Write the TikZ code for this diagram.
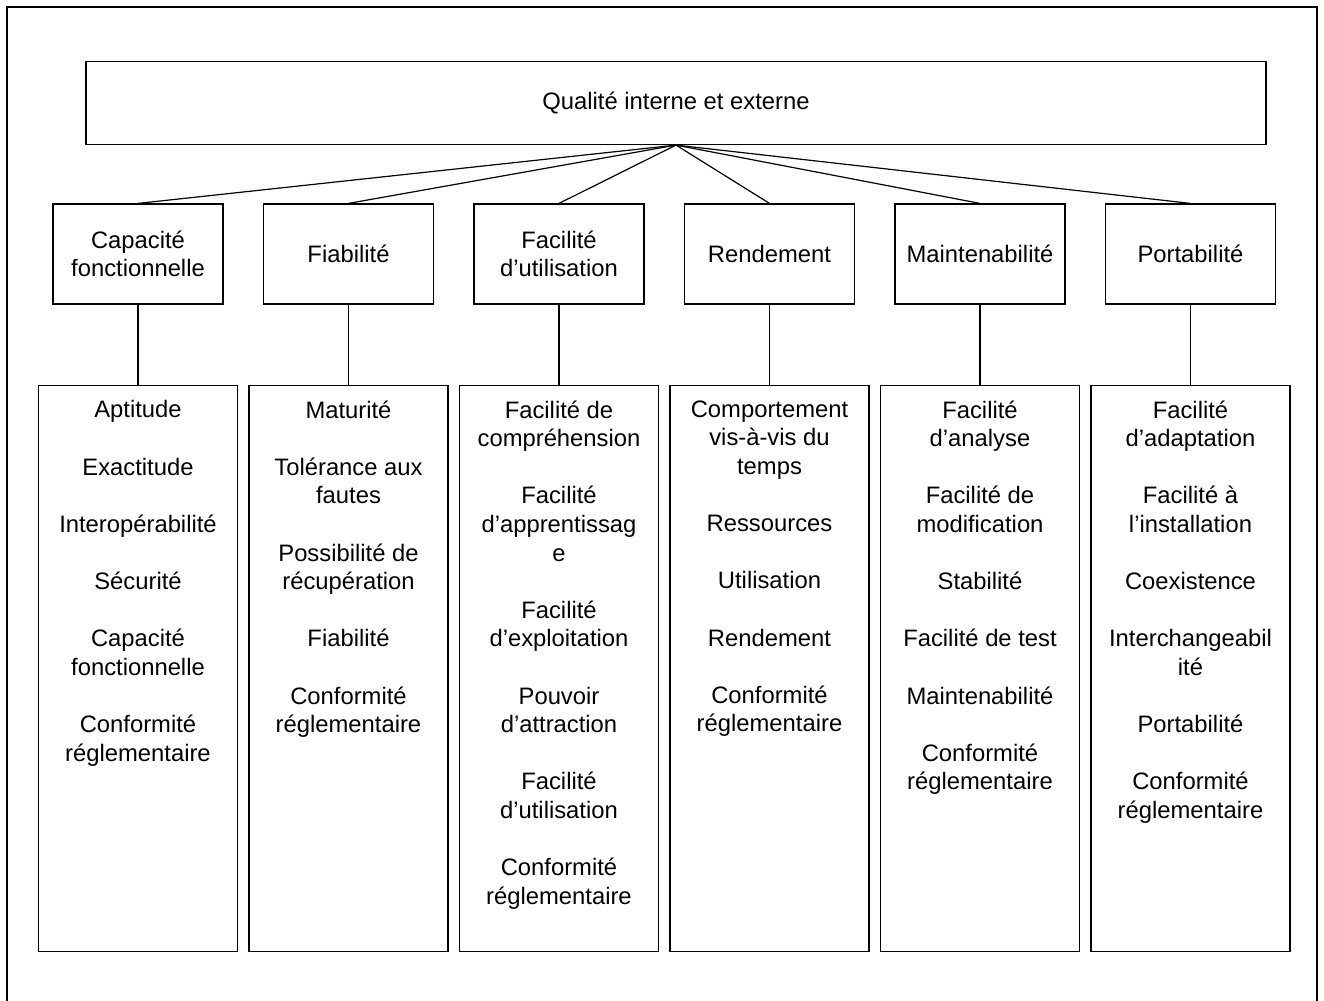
\documentclass[tikz,border=0pt]{standalone}
\usepackage{fontspec}
\setmainfont{Liberation Sans}
\usetikzlibrary{positioning}
\tikzset{
  every picture/.style={line width=0.6pt},
  txt/.style={font=\fontsize{11.9pt}{14.3pt}\selectfont, align=center},
  cat/.style={draw, txt, minimum width=85pt, minimum height=50pt, inner sep=2pt},
  lst/.style={draw, minimum width=99.5pt, minimum height=283pt, inner sep=0pt, anchor=north},
  items/.style={txt, anchor=north, inner sep=0pt, yshift=-7.5pt},
  link/.style={draw=black, line width=0.6pt},
}
\newcommand{\itemgap}{\\[14.3pt]}

\begin{document}
\begin{tikzpicture}[x=0.5pt, y=-0.5pt]
  \useasboundingbox (0,0) rectangle (1324,1001);
  % outer frame, bottom edge falls off the page
  \draw[line width=1.1pt] (7,1004) -- (7,7) -- (1317,7) -- (1317,1004);

  \node[draw, txt, minimum width=590pt, minimum height=41.5pt] (qual) at (676,103) {Qualité interne et externe};

  % characteristics
  \node[cat] (cap) at (138,254) {Capacité\\fonctionnelle};
  \node[cat] (fia) at (348.5,254) {Fiabilité};
  \node[cat] (uti) at (559,254) {Facilité\\d’utilisation};
  \node[cat] (ren) at (769.5,254) {Rendement};
  \node[cat] (mai) at (980,254) {Maintenabilité};
  \node[cat] (por) at (1190.5,254) {Portabilité};

  % sub-characteristics
  \node[lst] (capl) at (138,385) {};
  \node[lst] (fial) at (348.5,385) {};
  \node[lst] (util) at (559,385) {};
  \node[lst] (renl) at (769.5,385) {};
  \node[lst] (mail) at (980,385) {};
  \node[lst] (porl) at (1190.5,385) {};

  \node[items] (capt) at (capl.north) {Aptitude\itemgap Exactitude\itemgap Interopérabilité\itemgap Sécurité\itemgap Capacité\\fonctionnelle\itemgap Conformité\\réglementaire};
  \node[items] (fiat) at (fial.north) {Maturité\itemgap Tolérance aux\\fautes\itemgap Possibilité de\\récupération\itemgap Fiabilité\itemgap Conformité\\réglementaire};
  \node[items] (utit) at (util.north) {Facilité de\\compréhension\itemgap Facilité\\d’apprentissag\\e\itemgap Facilité\\d’exploitation\itemgap Pouvoir\\d’attraction\itemgap Facilité\\d’utilisation\itemgap Conformité\\réglementaire};
  \node[items] (rent) at (renl.north) {Comportement\\vis-à-vis du\\temps\itemgap Ressources\itemgap Utilisation\itemgap Rendement\itemgap Conformité\\réglementaire};
  \node[items] (mait) at (mail.north) {Facilité\\d’analyse\itemgap Facilité de\\modification\itemgap Stabilité\itemgap Facilité de test\itemgap Maintenabilité\itemgap Conformité\\réglementaire};
  \node[items] (port) at (porl.north) {Facilité\\d’adaptation\itemgap Facilité à\\l’installation\itemgap Coexistence\itemgap Interchangeabil\\ité\itemgap Portabilité\itemgap Conformité\\réglementaire};

  % tree links
  \draw[link] (qual.south) -- (cap.north);
  \draw[link] (qual.south) -- (fia.north);
  \draw[link] (qual.south) -- (uti.north);
  \draw[link] (qual.south) -- (ren.north);
  \draw[link] (qual.south) -- (mai.north);
  \draw[link] (qual.south) -- (por.north);

  \draw[link] (cap.south) -- (capl.north);
  \draw[link] (fia.south) -- (fial.north);
  \draw[link] (uti.south) -- (util.north);
  \draw[link] (ren.south) -- (renl.north);
  \draw[link] (mai.south) -- (mail.north);
  \draw[link] (por.south) -- (porl.north);
\end{tikzpicture}
\end{document}
